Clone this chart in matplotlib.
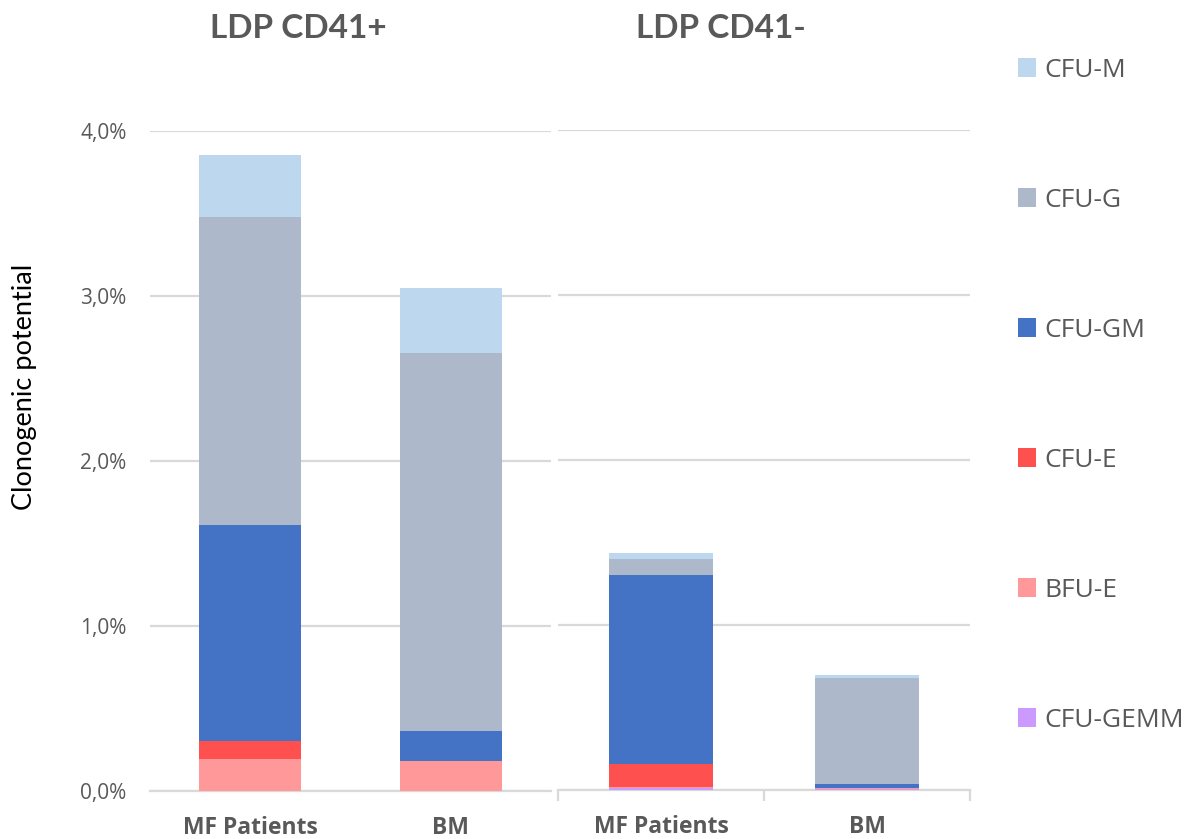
import matplotlib
matplotlib.use("Agg")
import matplotlib.pyplot as plt
import numpy as np

# Колонієутворюючий потенціал (%), шари знизу вгору
groups = ["MF Patients", "BM"]
panels = ["LDP CD41+", "LDP CD41-"]
colony_types = ["CFU-GEMM", "BFU-E", "CFU-E", "CFU-GM", "CFU-G", "CFU-M"]
colors = ["#CC99FF", "#FF9999", "#FF5050", "#4472C4", "#ADB9CA", "#BDD7EE"]

cd41_pos = {
    "CFU-GEMM": [0.0, 0.0],
    "BFU-E": [0.194, 0.182],
    "CFU-E": [0.109, 0.0],
    "CFU-GM": [1.309, 0.182],
    "CFU-G": [1.867, 2.292],
    "CFU-M": [0.376, 0.394],
}
cd41_neg = {
    "CFU-GEMM": [0.011, 0.004],
    "BFU-E": [0.008, 0.008],
    "CFU-E": [0.139, 0.0],
    "CFU-GM": [1.145, 0.025],
    "CFU-G": [0.097, 0.639],
    "CFU-M": [0.036, 0.024],
}
y_ticks = [0, 1, 2, 3, 4]

grey = "#595959"
grid_c = "#D9D9D9"
W, H = 1192, 839

fig = plt.figure(figsize=(W / 100, H / 100), dpi=100)
fig.patch.set_facecolor("white")

# положення осей у пікселях: (лівий край, базова лінія, ширина, висота)
ax1 = fig.add_axes([150 / W, (H - 791) / H, 401 / W, 660 / H])
ax2 = fig.add_axes([558 / W, (H - 790) / H, 412 / W, 660 / H])


def draw_panel(ax, data, bar_w):
    x = np.arange(len(groups))
    bottom = np.zeros(len(groups))
    handles = []
    for name, c in zip(colony_types, colors):
        vals = np.array(data[name])
        h = ax.bar(x, vals, bar_w, bottom=bottom, color=c, label=name, zorder=3)
        handles.append(h)
        bottom += vals
    ax.set_xlim(-0.5, 1.5)
    ax.set_ylim(0, 4)
    ax.set_yticks(y_ticks)
    ax.yaxis.grid(True, color=grid_c, linewidth=1.6, zorder=0)
    ax.set_axisbelow(True)
    for s in ["top", "right", "left"]:
        ax.spines[s].set_visible(False)
    ax.spines["bottom"].set_color(grid_c)
    ax.spines["bottom"].set_linewidth(1.6)
    ax.set_xticks(x)
    ax.set_xticklabels(groups, fontsize=16.5, fontweight="bold", color=grey,
                       family="Open Sans")
    ax.tick_params(axis="x", length=0, pad=18)
    ax.tick_params(axis="y", length=0)
    return handles


handles = draw_panel(ax1, cd41_pos, 0.51)
draw_panel(ax2, cd41_neg, 0.505)

ax1.set_yticklabels([f"{v},0%" for v in y_ticks], fontsize=15, color=grey,
                    family="Open Sans")
ax1.tick_params(axis="y", pad=17)
ax2.set_yticklabels([])

# розділові риски між категоріями на правій панелі
ax2.set_xticks([-0.5, 0.5, 1.5], minor=True)
ax2.tick_params(axis="x", which="minor", length=8, width=1.6, color=grid_c)

fig.text(25 / W, (H - 387) / H, "Clonogenic potential", rotation=90,
         ha="center", va="center", fontsize=19.5, color="black", family="Lato")

fig.text(298 / W, (H - 28) / H, panels[0], ha="center", va="center",
         fontsize=24, fontweight="bold", color=grey, family="Lato")
fig.text(721 / W, (H - 28) / H, panels[1], ha="center", va="center",
         fontsize=24, fontweight="bold", color=grey, family="Lato")

leg = fig.legend(handles[::-1], colony_types[::-1], loc="upper left",
                 bbox_to_anchor=(1007 / W, (H - 47) / H), frameon=False,
                 prop={"family": "Open Sans", "size": 19},
                 labelspacing=3.98, handlelength=0.7, handleheight=0.7,
                 handletextpad=0.3, borderaxespad=0)
for t in leg.get_texts():
    t.set_color(grey)

fig.savefig("out.png", dpi=100)
